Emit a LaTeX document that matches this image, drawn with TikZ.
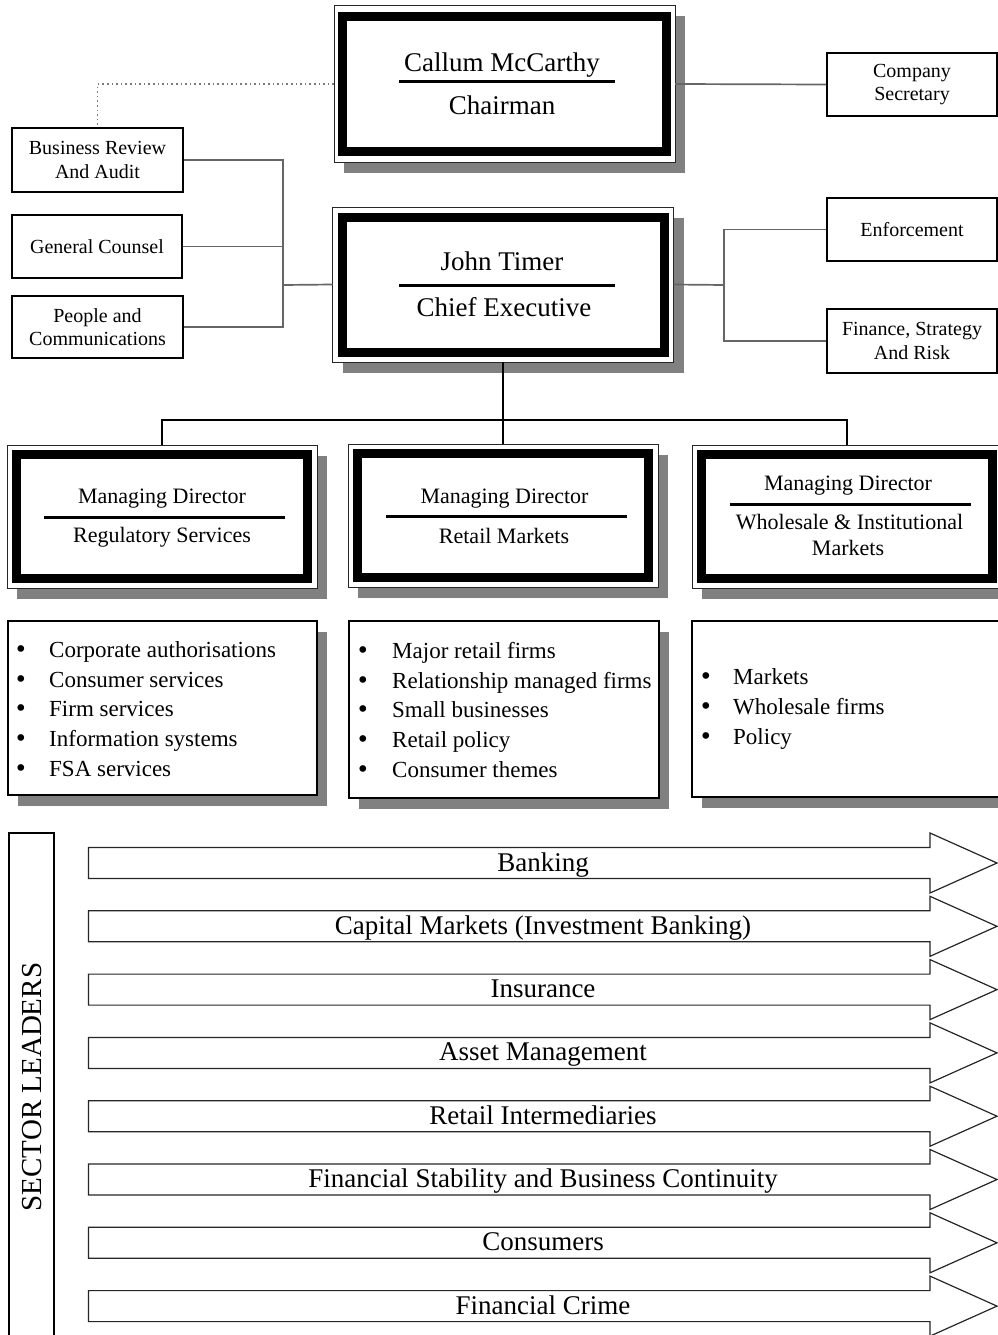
\documentclass[tikz,border=0pt]{standalone}
\usepackage{fontspec}
\setmainfont{Liberation Serif}
\newfontfamily\dejavu{DejaVu Sans}
\usetikzlibrary{shadows}
\definecolor{shadowgray}{HTML}{808080}
\definecolor{conngray}{HTML}{666666}
\definecolor{dotgray}{HTML}{7A7A7A}
\newcommand{\bigbul}[1]{\makebox[#1][l]{\hspace{-2pt}{\dejavu •}}}
\begin{document}
\begin{tikzpicture}[x=1pt,y=-1pt,
  shadowed/.style={drop shadow={shadow xshift=10pt,shadow yshift=-10.5pt,fill=shadowgray,opacity=1}},
  outerframe/.style={draw=black!85,line width=1pt,fill=white,inner sep=0pt,outer sep=0pt},
  thickframe/.style={draw=black,line width=9pt,fill=white,inner sep=0pt},
  bigtext/.style={font=\fontsize{27}{32}\selectfont,inner sep=0pt},
  mdtext/.style={font=\fontsize{22}{26}\selectfont,inner sep=0pt},
  smallbox/.style={draw=black,line width=2.5pt,fill=white,inner sep=0pt,align=center,font=\fontsize{20}{23.5}\selectfont},
  listbox/.style={draw=black,line width=2pt,fill=white,inner sep=0pt,shadowed},
  listtext/.style={font=\fontsize{23}{29.6}\selectfont,inner sep=0pt,align=left,anchor=west},
  conn/.style={draw=conngray,line width=1.7pt},
  bus/.style={draw=black,line width=2pt},
  rulebar/.style={draw=black,line width=3pt},
  arrowline/.style={draw=black!85,line width=1.2pt,fill=white},
  arrowtext/.style={font=\fontsize{27}{32}\selectfont,inner sep=0pt,anchor=base}
]
\useasboundingbox[fill=white] (0,0) rectangle (997,1335);

% ---------- Chairman ----------
\node[outerframe,shadowed,minimum width=341pt,minimum height=156pt] (chairO) at (504.5,84) {};
\node[thickframe,minimum width=324pt,minimum height=135pt] (chairT) at (504,84) {};
\node[bigtext,anchor=base] (chairN) at (502,72) {Callum McCarthy};
\draw[rulebar] (399,82) -- (615,82);
\node[bigtext,anchor=base] (chairR) at (502,115) {Chairman};

% ---------- CEO ----------
\node[outerframe,shadowed,minimum width=341pt,minimum height=155pt] (ceoO) at (503,284.5) {};
\node[thickframe,minimum width=322pt,minimum height=135pt] (ceoT) at (503,284.5) {};
\node[bigtext,anchor=base] (ceoN) at (502,270) {John Timer};
\draw[rulebar] (399,285) -- (615,285);
\node[bigtext,anchor=base] (ceoR) at (504,316) {Chief Executive};

% ---------- small boxes ----------
\node[smallbox,minimum width=171pt,minimum height=64pt] (br) at (97.5,160) {Business Review\\And Audit};
\node[smallbox,minimum width=170pt,minimum height=63pt] (gc) at (97,246.5) {General Counsel};
\node[smallbox,minimum width=171pt,minimum height=62pt] (pc) at (97.5,327) {People and\\Communications};
\node[smallbox,minimum width=170pt,minimum height=63pt] (cs) at (912,84.5) {Company\\Secretary};
\node[smallbox,minimum width=170pt,minimum height=63pt] (enf) at (912,229.5) {Enforcement};
\node[smallbox,minimum width=170pt,minimum height=64pt] (fin) at (912,341) {Finance, Strategy\\And Risk};

% ---------- connectors (top) ----------
\draw[draw=dotgray,line width=1.6pt,dash pattern=on 1.6pt off 3pt] (chairO.west) -| (br.north);
\draw[conn] (chairO.east) -- (cs.west);
\coordinate (lj) at (283,285);
\draw[conn] (ceoO.west) -- (lj);
\draw[conn] (br.east) -| (lj);
\draw[conn] (pc.east) -| (lj);
\draw[conn] (gc.east) -- (gc.east -| lj);
\coordinate (rj) at (724,285);
\draw[conn] (ceoO.east) -- (rj);
\draw[conn] (enf.west) -| (rj);
\draw[conn] (fin.west) -| (rj);

% ---------- Managing directors ----------
\coordinate (bj) at (503,420);
\draw[bus] (ceoO.south) -- (bj);
\node[outerframe,shadowed,minimum width=310pt,minimum height=143pt] (md1) at (162,516.5) {};
\node[thickframe,minimum width=291pt,minimum height=124pt] (md1T) at (162,516.5) {};
\node[outerframe,shadowed,minimum width=310pt,minimum height=143pt] (md2) at (503,515.5) {};
\node[thickframe,minimum width=291pt,minimum height=124pt] (md2T) at (503,515.5) {};
\node[outerframe,shadowed,minimum width=310pt,minimum height=143pt] (md3) at (847,516.5) {};
\node[thickframe,minimum width=291pt,minimum height=124pt] (md3T) at (847,516.5) {};
\draw[bus] (md1.north) |- (bj);
\draw[bus] (md3.north) |- (bj);
\draw[bus] (md2.north) -- (md2.north |- bj);

\node[mdtext,anchor=base] (md1a) at (162,503) {Managing Director};
\draw[rulebar] (44,517) -- (285,517);
\node[mdtext,anchor=base] (md1b) at (162,542) {Regulatory Services};

\node[mdtext,anchor=base] (md2a) at (504.5,503) {Managing Director};
\draw[rulebar] (386,516) -- (627,516);
\node[mdtext,anchor=base] (md2b) at (504,543) {Retail Markets};

\node[mdtext,anchor=base] (md3a) at (848,490) {Managing Director};
\draw[rulebar] (730,504) -- (971,504);
\node[mdtext,anchor=base] (md3b) at (849.5,529) {Wholesale \& Institutional};
\node[mdtext,anchor=base] (md3c) at (848,555) {Markets};

% ---------- lists ----------
\node[listbox,minimum width=309pt,minimum height=174pt] (l1) at (162.5,708) {};
\node[listbox,minimum width=310pt,minimum height=177pt] (l2) at (504,709.5) {};
\node[listbox,minimum width=310pt,minimum height=176pt] (l3) at (847,709) {};
\node[listtext] (l1t) at (16,709) {\bigbul{33pt}Corporate authorisations\\
  \bigbul{33pt}Consumer services\\
  \bigbul{33pt}Firm services\\
  \bigbul{33pt}Information systems\\
  \bigbul{33pt}FSA services};
\node[listtext] (l2t) at (358,710) {\bigbul{34pt}Major retail firms\\
  \bigbul{34pt}Relationship managed firms\\
  \bigbul{34pt}Small businesses\\
  \bigbul{34pt}Retail policy\\
  \bigbul{34pt}Consumer themes};
\node[listtext] (l3t) at (701,709) {\bigbul{32pt}Markets\\
  \bigbul{32pt}Wholesale firms\\
  \bigbul{32pt}Policy};

% ---------- sector leaders ----------
\draw[line width=2pt] (9,1345) -- (9,833) -- (54,833) -- (54,1345);
\node[rotate=90,font=\fontsize{29}{34}\selectfont,inner sep=0pt] (sector) at (32,1087) {SECTOR LEADERS};

\foreach \i/\lab in {0/Banking,1/Capital Markets (Investment Banking),2/Insurance,3/Asset Management,4/Retail Intermediaries,5/Financial Stability and Business Continuity,6/Consumers,7/Financial Crime}{
  \pgfmathsetmacro\c{863+63.3*\i}
  \draw[arrowline] (88.5,\c-15.5) -- (930,\c-15.5) -- (930,\c-30) -- (997,\c) -- (930,\c+30) -- (930,\c+15.5) -- (88.5,\c+15.5) -- cycle;
  \node[arrowtext] (arr\i) at (543,\c+8) {\lab};
}
\end{tikzpicture}
\end{document}
